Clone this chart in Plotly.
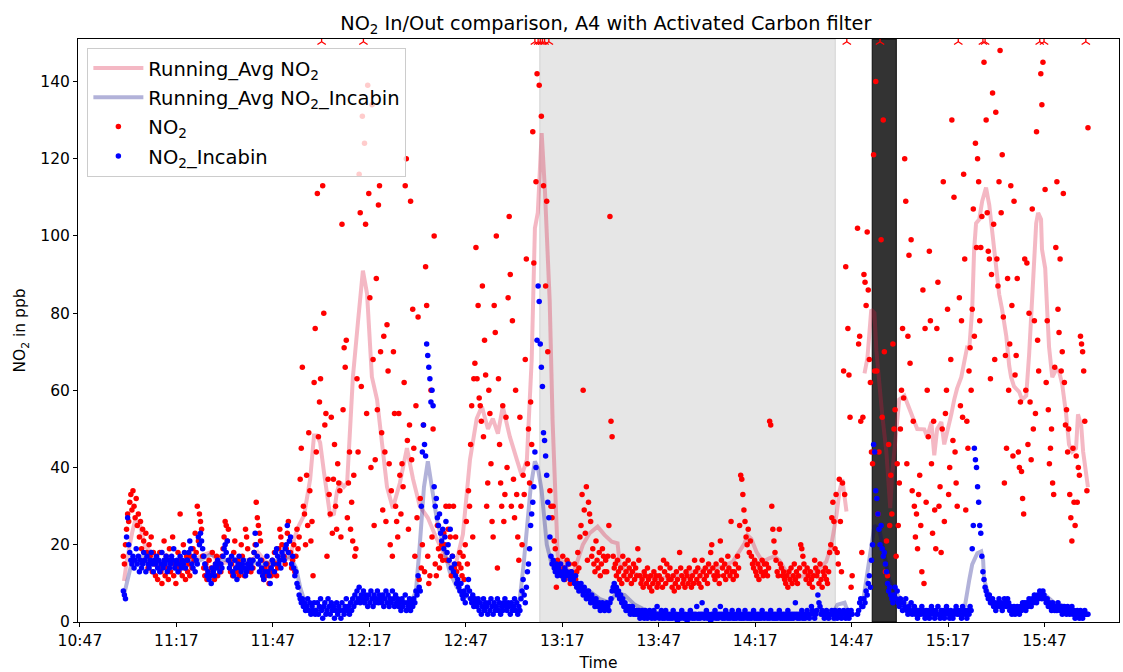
import pandas as pd
import plotly.graph_objects as go

# ---------------- data ----------------
DAY = "2023-06-01"
AXIS_ORIGIN = "10:47:00"          # reference clock for running-average knots (minutes after)
DATA_START = "11:00:30"
SAMPLE_SECONDS = 20
Y_MAX = 151
CLIP_Y = 150.3                      # readings above the axis are flagged on its top edge

NO2 = [
    17, 15, 20, 24, 28, 26, 31, 33, 29, 34, 30, 27, 32, 25, 28, 22, 26, 19, 24, 21, 16, 23, 18, 14, 20, 17, 22, 13, 18, 15,
    12, 16, 11, 14, 18, 13, 10, 15, 21, 12, 17, 14, 11, 19, 13, 16, 22, 12, 15, 10, 14, 18, 13, 28, 16, 12, 20, 14, 11, 17,
    13, 15, 12, 17, 14, 19, 16, 23, 18, 30, 21, 28, 26, 24, 17, 14, 12, 15, 11, 13, 16, 12, 14, 18, 13, 11, 15, 17, 12, 14,
    15, 13, 17, 19, 22, 26, 25, 21, 24, 16, 13, 15, 12, 18, 21, 14, 13, 16, 12, 15, 20, 17, 14, 12, 24, 22, 19, 14, 16, 13,
    16, 14, 18, 20, 31, 27, 25, 23, 21, 16, 13, 11, 14, 12, 15, 13, 10, 14, 12, 16, 13, 18, 15, 12, 14, 19, 24, 22, 20, 17,
    17, 15, 19, 23, 26, 21, 18, 14, 16, 20, 13, 17, 24, 19, 22, 37, 45, 66, 30, 28, 20, 38, 25, 49, 34, 21, 26, 12, 62, 76,
    44, 111, 48, 57, 63, 160, 113, 80, 51, 54, 17, 37, 33, 28, 53, 23, 37, 46, 30, 24, 41, 36, 34, 22, 103, 55, 71, 66, 73, 27,
    36, 44, 24, 31, 21, 38, 17, 19, 63, 44, 116, 106, 61, 131, 170, 124, 103, 54, 139, 111, 84, 40, 134, 68, 25, 42, 89, 55, 108, 113,
    70, 49, 29, 74, 44, 26, 77, 65, 41, 20, 34, 17, 70, 54, 30, 26, 22, 54, 38, 28, 41, 35, 62, 113, 120, 47, 24, 51, 109, 42,
    81, 45, 17, 56, 27, 79, 11, 32, 14, 20, 51, 13, 92, 82, 17, 10, 12, 60, 22, 50, 100, 15, 12, 25, 19, 14, 17, 20, 16, 23,
    20, 30, 16, 24, 30, 22, 12, 17, 30, 14, 22, 13, 10, 15, 18, 14, 12, 17, 11, 20, 26, 15, 34, 30, 46, 56, 22, 63, 67, 97,
    63, 82, 58, 56, 52, 87, 48, 73, 64, 30, 36, 60, 54, 41, 26, 22, 82, 75, 100, 14, 63, 46, 36, 30, 56, 26, 33, 53, 40, 84,
    105, 90, 30, 78, 37, 27, 60, 33, 22, 16, 53, 30, 20, 38, 33, 68, 94, 41, 50, 36, 57, 46, 127, 93, 165, 114, 142, 160, 139, 155,
    131, 170, 113, 158, 87, 109, 70, 152, 34, 30, 27, 30, 21, 19, 9, 16, 14, 15, 13, 12, 17, 14, 11, 13, 16, 12, 15, 10, 13, 12,
    12, 15, 11, 13, 18, 14, 22, 25, 33, 60, 29, 23, 35, 16, 31, 28, 26, 17, 19, 15, 13, 21, 16, 14, 18, 12, 15, 19, 17, 13,
    16, 13, 17, 25, 105, 52, 48, 17, 14, 15, 12, 16, 13, 11, 14, 10, 17, 12, 15, 13, 11, 16, 14, 12, 10, 13, 15, 11, 14, 12,
    19, 16, 12, 10, 11, 9, 13, 12, 10, 14, 11, 9, 12, 8, 10, 13, 11, 12, 9, 10, 12, 14, 11, 9, 16, 13, 10, 15, 12, 11,
    14, 11, 9, 12, 8, 10, 13, 11, 9, 18, 14, 12, 10, 11, 9, 13, 12, 10, 14, 11, 9, 12, 10, 16, 13, 11, 14, 10, 12, 9,
    16, 13, 11, 14, 12, 10, 15, 13, 18, 20, 14, 12, 11, 15, 13, 12, 10, 21, 16, 14, 12, 15, 11, 13, 17, 14, 12, 26, 13, 11,
    13, 15, 12, 17, 14, 25, 38, 37, 33, 29, 26, 22, 20, 24, 18, 21, 17, 15, 14, 16, 13, 12, 15, 11, 14, 13, 16, 12, 15, 13,
    15, 12, 14, 52, 51, 30, 24, 21, 18, 16, 13, 12, 24, 15, 14, 12, 13, 11, 10, 12, 9, 13, 11, 14, 10, 12, 15, 11, 13, 10,
    12, 14, 20, 19, 17, 15, 13, 11, 14, 12, 10, 13, 11, 9, 12, 16, 14, 12, 13, 10, 15, 11, 9, 13, 12, 14, 11, 10, 13, 18,
    20, 27, 31, 26, 19, 33, 18, 15, 37, 26, 13, 36, 65, 33, 92, 160, 76, 64, 53, 9, 12, None, None, None, None, 102, 72, 74, 52, 18,
    53, 90, 88, 82, 101, 86, 68, 62, 44, 41, 121, 65, 140, 65, 28, 44, 160, 99, 53, 130, 70, 13, 21, 12, 46, 25, 38, 28, 72, 50,
    55, 17, 41, 25, 36, 50, 60, 76, 58, 120, 109, 41, 74, 95, 67, 99, 34, 52, 30, 22, 28, 19, 33, 38, 25, 13, 86, 10, 76, 31,
    60, 48, 96, 78, 41, 23, 52, 29, 19, 76, 88, 30, 35, 18, 50, 114, 26, 54, 60, 81, 33, 40, 68, 130, 47, 110, 44, 36, 30, 160,
    84, 56, 78, 53, 116, 94, 29, 52, 45, 65, 71, 60, 81, 107, 74, 124, 97, 120, 114, 78, 97, 105, 180, 145, 160, 130, 106, 96, 94, 63,
    90, 137, 103, 68, 132, 94, 87, 114, 148, 106, 121, 79, 36, 69, 45, 89, 60, 72, 113, 82, 43, 109, 64, 69, 89, 44, 40, 57, 39, 32,
    28, 94, 60, 93, 46, 80, 57, 42, 107, 50, 78, 54, 127, 73, 65, 160, 142, 134, 145, 170, 112, 62, 78, 55, 41, 45, 50, 36, 33, 66,
    97, 114, 81, 75, 94, 65, 70, 111, 62, 51, 55, 44, 50, 33, 27, 21, 45, 31, 25, 43, 31, 40, 38, 74, 72, 70, 65, 52, 160, 34,
    128,
]

NO2_INCABIN = [
    8, 7, 6, 22, 27, 20, 18, 16, 15, 17, 14, 16, 19, 15, 17, 13, 16, 14, 15, 18, 16, 13, 17, 15, 14, 16, 18, 15, 13, 16,
    15, 17, 14, 16, 13, 15, 18, 14, 16, 15, 17, 13, 16, 14, 15, 17, 16, 19, 14, 15, 16, 13, 15, 17, 14, 16, 15, 18, 14, 16,
    16, 18, 21, 19, 15, 14, 17, 13, 16, 15, 22, 20, 23, 21, 19, 17, 15, 14, 12, 13, 11, 12, 10, 14, 13, 12, 15, 14, 16, 15,
    13, 15, 14, 17, 19, 20, 18, 21, 16, 14, 15, 17, 13, 12, 16, 14, 11, 15, 17, 14, 13, 15, 16, 14, 12, 13, 15, 14, 16, 15,
    14, 16, 18, 23, 20, 17, 15, 13, 16, 14, 12, 11, 13, 15, 17, 13, 12, 10, 14, 16, 15, 13, 18, 19, 17, 15, 16, 14, 18, 17,
    16, 19, 20, 25, 18, 21, 22, 15, 17, 14, 12, 13, 10, 9, 7, 6, 5, 6, 4, 5, 3, 4, 6, 3, 5, 2, 4, 3, 5, 2,
    3, 5, 2, 4, 6, 3, 1, 4, 5, 2, 3, 6, 4, 2, 5, 3, 4, 1, 3, 5, 2, 4, 3, 1, 5, 3, 2, 4, 6, 3,
    4, 2, 5, 3, 6, 4, 7, 5, 8, 6, 9, 5, 7, 6, 8, 5, 7, 6, 4, 7, 5, 8, 6, 4, 7, 5, 6, 8, 5, 7,
    6, 5, 7, 4, 6, 8, 5, 7, 4, 6, 5, 8, 6, 4, 7, 5, 6, 4, 5, 3, 6, 4, 5, 7, 3, 5, 4, 6, 3, 5,
    4, 6, 5, 8, 7, 12, 9, 8, 30, 44, 51, 46, 43, 72, 69, 66, 63, 57, 60, 56, 35, 30, 32, 27, 25, 28, 23, 21, 24, 19,
    22, 26, 18, 20, 16, 24, 14, 17, 13, 15, 12, 10, 11, 9, 8, 10, 7, 6, 8, 5, 7, 9, 11, 8, 6, 5, 7, 4, 6, 5,
    4, 6, 3, 5, 2, 4, 6, 3, 5, 4, 2, 5, 3, 6, 4, 2, 5, 3, 4, 6, 3, 5, 2, 4, 3, 5, 6, 4, 3, 5,
    4, 2, 5, 3, 4, 6, 3, 5, 2, 4, 3, 6, 8, 11, 7, 5, 9, 13, 15, 19, 25, 28, 31, 35, 44, 40, 73, 87, 83, 72,
    66, 61, 49, 47, 43, 38, 31, 27, 22, 17, 15, 16, 14, 13, 15, 12, 14, 13, 15, 12, 13, 11, 14, 12, 13, 15, 12, 11, 13, 12,
    11, 10, 12, 9, 10, 8, 9, 10, 8, 7, 9, 8, 6, 7, 8, 6, 5, 7, 6, 5, 4, 6, 5, 4, 5, 3, 4, 5, 4, 3,
    4, 5, 4, 3, 5, 6, 8, 9, 10, 8, 9, 7, 8, 6, 7, 5, 6, 4, 5, 3, 4, 3, 4, 2, 3, 4, 2, 3, 2, 3,
    2, 3, 1, 2, 3, 2, 1, 3, 2, 1, 2, 3, 2, 1, 2, 3, 1, 2, 4, 2, 1, 2, 3, 1, 2, 1, 3, 2, 1, 2,
    1, 2, 1, 3, 2, 1, 2, 0, 1, 2, 1, 3, 2, 1, 2, 1, 0, 2, 1, 3, 2, 1, 2, 1, 2, 4, 1, 2, 1, 2,
    5, 2, 1, 2, 3, 1, 2, 1, 0, 2, 1, 2, 3, 1, 2, 1, 2, 4, 2, 1, 2, 1, 3, 2, 1, 2, 1, 2, 3, 1,
    1, 2, 1, 2, 3, 1, 2, 1, 2, 1, 3, 2, 1, 2, 1, 2, 1, 2, 3, 1, 2, 1, 2, 1, 2, 1, 3, 2, 1, 2,
    2, 1, 2, 1, 3, 2, 1, 2, 1, 2, 1, 2, 3, 1, 2, 1, 2, 1, 2, 1, 3, 1, 2, 1, 2, 1, 2, 5, 2, 1,
    2, 1, 2, 3, 1, 2, 1, 2, 3, 2, 1, 2, 4, 3, 2, 1, 2, 3, 7, 5, 4, 2, 3, 2, 1, 2, 3, 2, 1, 2,
    2, 3, 2, 1, 3, 2, 1, 2, 3, 2, 1, 2, 3, 2, 1, 2, 3, 1, 2, 3, 2, None, None, None, None, 2, 3, 5, 6, 4,
    4, 6, 5, 8, 7, 10, 12, 9, 16, 20, 46, 44, 34, 32, 28, 24, 20, 25, 19, 17, 18, 15, 13, 10, 8, 9, 7, 6, 5, 7,
    9, 6, 8, 5, 4, 6, 5, 3, 5, 4, 6, 3, 2, 4, 3, 5, 2, 3, 4, 2, 3, 1, 2, 3, 2, 4, 3, 2, 1, 3,
    2, 3, 1, 2, 4, 3, 2, 1, 3, 2, 4, 2, 1, 3, 2, 3, 1, 2, 4, 3, 2, 1, 3, 2, 1, 2, 3, 4, 2, 3,
    2, 3, 1, 4, 2, 3, 2, 1, 3, 2, 4, 3, 19, 25, 45, 42, 40, 35, 31, 25, 23, 17, 13, 11, 9, 8, 7, 6, 7, 5,
    5, 6, 4, 5, 3, 4, 5, 6, 4, 5, 3, 4, 6, 5, 4, 6, 5, 3, 4, 2, 3, 4, 2, 3, 4, 3, 2, 4, 3, 5,
    4, 5, 3, 5, 4, 6, 5, 4, 6, 5, 7, 6, 5, 7, 6, 8, 7, 6, 8, 7, 6, 5, 6, 4, 5, 4, 3, 5, 4, 3,
    4, 3, 5, 4, 3, 4, 2, 3, 4, 3, 2, 4, 3, 2, 3, 4, 2, 3, 1, 2, 3, 2, 1, 3, 2, 1, 2, 3, 2, 2,
    2,
]

# running averages: minutes after AXIS_ORIGIN, value (None = gap)
RA_NO2_MIN = [
    13.7, 14.7, 16.3, 17.2, 18.5, 20.3, 21.9, 25.0, 29.6, 34.3, 37.4, 40.5, 43.6, 48.3, 52.9, 55.4, 58.5, 62.2,
    65.4, 66.6, 68.1, 69.7, 71.6, 72.8, 73.7, 74.7, 75.9, 76.8, 77.8, 79.0, 79.9, 80.9, 82.1, 83.1, 84.0, 84.9,
    86.5, 88.0, 89.3, 90.8, 92.4, 93.9, 95.5, 97.3, 99.5, 101.7, 103.6, 105.7, 108.2, 110.7, 114.1, 116.6, 119.1,
    121.3, 123.4, 125.0, 126.9, 128.4, 130.0, 131.5, 133.7, 135.9, 137.4, 139.0, 140.5, 141.5, 142.4, 143.6,
    144.6, 146.1, 147.0, 148.0, 148.6, 151.4, 153.3, 156.4, 158.5, 161.0, 163.2, 165.4, 167.2, 167.9, 170.0,
    174.1, 180.3, 187.4, 190.5, 196.7, 199.8, 203.0, 205.1, 206.7, 207.6, 208.8, 210.4, 212.3, 214.4, 216.0,
    217.5, 219.7, 221.6, 226.9, 230.0, 232.1, 233.7, 235.3, 236.2, 237.1, 238.4, 241.0,
    244.0, 244.9, 246.1, 247.1, 247.7, 248.6, 249.5, 250.8, 251.4, 252.0, 252.6, 253.9, 254.8, 256.4, 258.6,
    260.4, 262.6, 263.5, 264.8, 265.7, 266.6, 267.9, 268.8, 269.7, 271.0, 271.9, 272.8, 274.1, 275.0, 275.9,
    276.6, 277.5, 278.1, 278.7, 279.7, 280.6, 281.8, 282.8, 283.7, 284.3, 285.0, 285.9, 286.8, 288.1, 289.0,
    289.6, 290.5, 292.1, 293.0, 294.3, 295.2, 296.1, 297.4, 298.0, 298.9, 299.2, 300.2, 300.8, 301.4, 302.4,
    303.6, 304.5, 305.5, 306.7, 307.6, 308.6, 309.8, 310.4, 311.4, 312.0, 312.9, 313.5,
]
RA_NO2 = [
    10.6, 16.5, 23.4, 26.4, 25.5, 19.5, 18.3, 15.0, 14.0, 15.0, 17.0, 18.0, 15.0, 16.0, 15.0, 18.0, 15.0, 16.0,
    16.5, 21.6, 25.0, 27.6, 37.0, 48.3, 48.3, 46.5, 38.8, 33.6, 27.6, 28.0, 33.6, 36.2, 35.0, 36.0, 48.0, 63.5,
    78.0, 91.0, 85.0, 63.5, 57.6, 46.0, 35.0, 29.5, 36.0, 45.0, 37.0, 30.0, 27.0, 22.0, 16.0, 14.0, 22.7,
    42.0, 52.7, 55.8, 50.0, 52.7, 48.8, 55.8, 48.0, 42.0, 38.0, 42.0, 68.0, 102.0, 106.0, 126.6,
    112.0, 83.0, 52.0, 30.0, 17.3, 14.0, 12.2, 20.0, 23.0, 24.7, 22.5, 20.8, 20.4, 14.8, 13.0,
    12.2, 11.3, 12.2, 13.0, 14.0, 14.4, 15.6, 18.2, 20.4, 22.5, 21.5, 18.2, 15.6, 16.5, 17.0,
    16.0, 13.0, 11.3, 12.2, 14.0, 15.6, 20.0, 27.7, 33.8, 37.0, 28.6, None,
    64.4, 68.3, 80.9, 80.0, 70.2, 61.5, 53.8, 44.1, 36.3, 29.5, 38.2, 48.9, 57.6, 58.6, 54.0,
    50.0, 49.9, 48.0, 51.8, 43.2, 50.0, 51.8, 46.0, 49.0, 53.8, 57.6, 60.5, 63.4, 67.2, 71.1,
    71.0, 81.0, 96.5, 103.3, 104.3, 109.0, 112.5, 108.0, 101.3, 96.5, 89.7, 84.8, 80.9, 74.0, 66.4,
    63.4, 61.0, 59.6, 57.6, 58.6, 69.3, 84.8, 103.3, 106.0, 104.3, 96.5, 91.6, 81.0, 71.2, 63.4,
    65.4, 65.0, 61.5, 53.8, 46.0, 44.1, 45.0, 53.8, 50.9, 44.1, 39.2, 34.9,
]
RA_IN_MIN = [
    13.7, 14.7, 16.0, 18.8, 25.0, 37.4, 40.5, 45.2, 49.8, 56.0, 62.2, 65.4, 67.2, 68.5, 70.0, 73.1, 80.9, 87.1,
    96.4, 102.9, 104.5, 105.7, 107.0, 108.2, 109.5, 111.0, 112.9, 115.0, 117.2, 119.7, 122.8, 130.6, 135.2,
    136.8, 138.0, 139.0, 140.2, 141.5, 142.4, 143.6, 145.2, 146.7, 149.2, 152.3, 155.4, 158.5, 161.6, 164.7,
    166.9, 169.4, 172.5, 177.2, 186.5, 198.9, 211.3, 223.8, 231.5, 234.6, 235.6, 237.8, 238.7, 241.0,
    243.3, 244.6, 245.5, 247.1, 248.6, 250.2, 251.7, 253.3, 254.8, 256.4, 259.5, 264.1, 270.4, 275.0,
    276.6, 277.5, 279.1, 280.3, 280.9, 281.2, 282.2, 283.7, 287.4, 292.1, 295.2, 298.3, 300.2, 303.0,
    306.7, 310.7, 313.5,
]
RA_IN = [
    7.0, 11.0, 15.0, 17.0, 15.5, 16.0, 17.5, 16.0, 16.5, 15.0, 16.0, 17.0, 14.0, 9.0, 5.0, 3.5, 3.5, 5.5,
    6.0, 5.0, 8.0, 20.0, 35.0, 41.6, 35.0, 26.6, 20.0, 13.0, 9.0, 7.0, 5.0, 4.0, 4.0,
    6.0, 15.0, 24.5, 35.0, 41.6, 40.0, 34.0, 20.0, 15.0, 14.0, 12.0, 9.5, 8.0, 6.0, 5.0,
    7.5, 7.0, 4.5, 2.5, 1.8, 1.8, 1.7, 2.0, 2.5, 3.0, 4.5, 5.0, 3.0, None,
    4.0, 11.0, 15.0, 25.0, 24.0, 17.0, 11.0, 8.0, 6.5, 5.0, 3.5, 2.5, 2.5, 3.0,
    11.0, 14.9, 17.8, 18.3, 15.9, 11.0, 8.1, 5.3, 4.5, 3.8, 4.5, 6.5, 7.0, 5.0,
    4.0, 2.5, 2.0,
]

# shaded periods (clock times)
LIGHT_SPAN = ("13:10:00", "14:41:56")
DARK_SPAN = ("14:53:24", "15:00:54")

TICK_LABELS = ["10:47", "11:17", "11:47", "12:17", "12:47", "13:17", "13:47", "14:17", "14:47", "15:17", "15:47"]
Y_TICKS = [0, 20, 40, 60, 80, 100, 120, 140]
X_RANGE_MIN = (-0.6, 323.15)       # axis limits, minutes after AXIS_ORIGIN

# ---------------- build ----------------
origin = pd.Timestamp(f"{DAY} {AXIS_ORIGIN}")
start = pd.Timestamp(f"{DAY} {DATA_START}")
t_no2 = pd.date_range(start, periods=len(NO2), freq=f"{SAMPLE_SECONDS}s")
t_in = pd.date_range(start, periods=len(NO2_INCABIN), freq=f"{SAMPLE_SECONDS}s")


def mins(ms):
    return [origin + pd.Timedelta(minutes=m) for m in ms]


no2_x, no2_y, over_x = [], [], []
for t, v in zip(t_no2, NO2):
    if v is None:
        continue
    if v > Y_MAX:
        over_x.append(t)
    else:
        no2_x.append(t)
        no2_y.append(v)

in_x = [t for t, v in zip(t_in, NO2_INCABIN) if v is not None]
in_y = [v for v in NO2_INCABIN if v is not None]

FONT = "DejaVu Sans"
TICK_SIZE = 15.5
fig = go.Figure()

fig.add_trace(go.Scatter(
    x=mins(RA_NO2_MIN), y=RA_NO2, mode="lines", name="Running_Avg NO<sub>2</sub>",
    line=dict(color="rgba(220,20,60,0.3)", width=4), legendgroup="a", connectgaps=False))
fig.add_trace(go.Scatter(
    x=mins(RA_IN_MIN), y=RA_IN, mode="lines", name="Running_Avg NO<sub>2</sub>_Incabin",
    line=dict(color="rgba(0,0,128,0.3)", width=4), legendgroup="b", connectgaps=False))
fig.add_trace(go.Scatter(
    x=no2_x, y=no2_y, mode="markers", name="NO<sub>2</sub>",
    marker=dict(color="#ff0000", size=5.5, line=dict(width=0)), legendgroup="c"))
fig.add_trace(go.Scatter(
    x=over_x, y=[CLIP_Y] * len(over_x), mode="markers", showlegend=False,
    marker=dict(symbol="y-up", size=7, color="#ff0000", line=dict(color="#ff0000", width=1.3))))
fig.add_trace(go.Scatter(
    x=in_x, y=in_y, mode="markers", name="NO<sub>2</sub>_Incabin",
    marker=dict(color="#0000ff", size=5.5, line=dict(width=0)), legendgroup="d"))

fig.add_shape(type="rect", xref="x", yref="paper", layer="below",
              x0=f"{DAY} {LIGHT_SPAN[0]}", x1=f"{DAY} {LIGHT_SPAN[1]}", y0=0, y1=1,
              fillcolor="rgba(128,128,128,0.2)", line=dict(color="rgba(128,128,128,0.25)", width=1))
fig.add_shape(type="rect", xref="x", yref="paper", layer="below",
              x0=f"{DAY} {DARK_SPAN[0]}", x1=f"{DAY} {DARK_SPAN[1]}", y0=0, y1=1,
              fillcolor="rgba(0,0,0,0.8)", line=dict(color="rgba(0,0,0,0.9)", width=1))

tickvals = [pd.Timestamp(f"{DAY} {s}") for s in TICK_LABELS]

fig.update_layout(
    width=1123, height=672,
    margin=dict(l=78, r=3, t=39, b=48),
    paper_bgcolor="white", plot_bgcolor="white",
    font=dict(family=FONT, size=TICK_SIZE, color="black"),
    title=dict(text="NO<sub>2</sub> In/Out comparison, A4 with Activated Carbon filter",
               x=0.507, xref="paper", xanchor="center", y=0.966, yref="container", yanchor="middle",
               font=dict(family=FONT, size=19.3, color="black")),
    legend=dict(x=0.009, y=0.985, xanchor="left", yanchor="top",
                bgcolor="rgba(255,255,255,0.8)", bordercolor="#cccccc", borderwidth=1,
                font=dict(family=FONT, size=19.5, color="black"),
                traceorder="grouped", tracegroupgap=1, itemwidth=50),
    xaxis=dict(type="date", range=mins(X_RANGE_MIN), tickvals=tickvals, ticktext=TICK_LABELS,
               ticks="outside", ticklen=4, tickwidth=1, tickcolor="black",
               showline=True, linecolor="black", linewidth=1, mirror=True,
               showgrid=False, zeroline=False, tickfont=dict(size=TICK_SIZE),
               title=dict(text="Time", standoff=9, font=dict(family=FONT, size=TICK_SIZE))),
    yaxis=dict(range=[0, Y_MAX], tickvals=Y_TICKS, ticks="outside", ticklen=4, tickwidth=1,
               tickcolor="black", showline=True, linecolor="black", linewidth=1, mirror=True,
               showgrid=False, zeroline=False, tickfont=dict(size=TICK_SIZE),
               title=dict(text="NO<sub>2</sub> in ppb", standoff=10, font=dict(family=FONT, size=TICK_SIZE))),
)

fig.write_html("out.html")
